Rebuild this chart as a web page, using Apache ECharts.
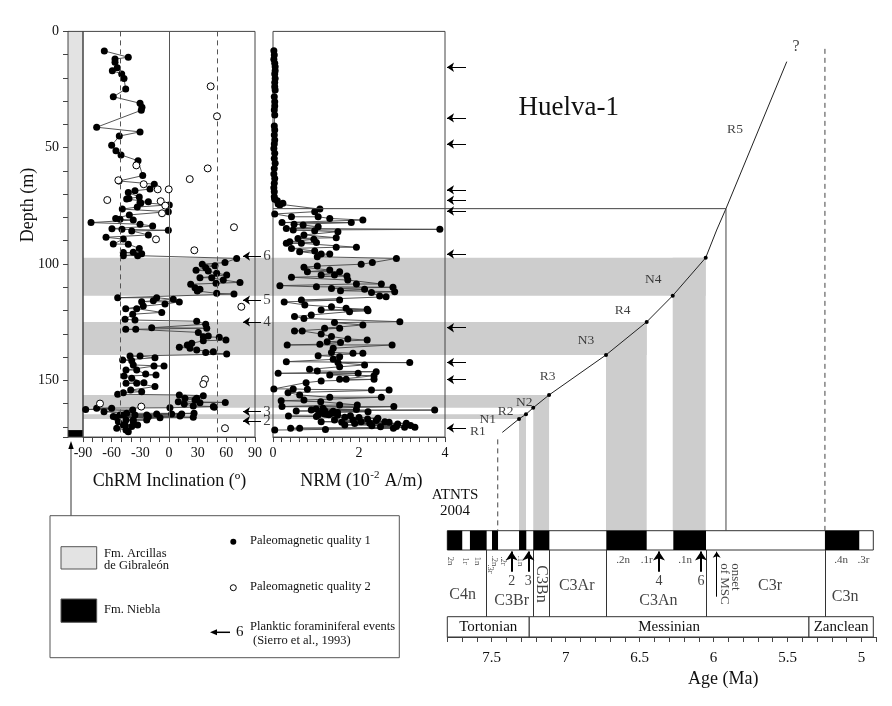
<!DOCTYPE html>
<html><head><meta charset="utf-8">
<script src="https://cdn.jsdelivr.net/npm/echarts@6/dist/echarts.min.js"></script>
<style>html,body{margin:0;padding:0;background:#fff}#c{width:892px;height:706px}</style>
</head><body><div id="c"></div><script>
// ---------------- DATA ----------------
// ChRM inclination (deg), depth (m) — quality 1 (filled, connected)
const incQ1 = [[-67.7,8.4],[-42.6,11.1],[-56.5,11.9],[-56.5,13.3],[-54.1,15.6],[-59.3,16.9],[-49.5,18.3],[-47.1,20.2],[-45.3,24.8],[-58.3,28.1],[-30.3,30.9],[-28.3,32.6],[-29.0,33.9],[-75.7,41.2],[-30.3,43.2],[-52.0,45.0],[-60.0,49.0],[-55.5,51.3],[-50.2,53.1],[-32.4,55.6],[-27.5,62.0],[-52.3,64.3],[-15.4,65.7],[-19.9,67.8],[-35.6,68.5],[-42.6,69.3],[-31.1,71.2],[-41.9,71.8],[-44.3,72.1],[-21.6,73.2],[-30.3,73.5],[-29.6,73.9],[0.3,74.6],[-33.2,75.5],[-48.9,76.4],[-0.7,77.5],[-41.5,78.9],[-55.8,80.4],[-51.3,80.8],[-37.4,81.1],[-81.6,82.2],[-30.3,82.9],[-17.1,83.7],[-59.7,84.8],[-49.2,85.1],[-0.7,85.5],[-39.0,85.8],[-21.6,87.5],[-65.9,88.5],[-47.8,89.3],[-58.3,91.4],[-42.6,91.5],[-31.1,93.3],[-37.4,95.0],[-47.8,95.1],[-28.6,95.6],[-47.8,96.4],[-32.8,96.4],
[70.8,97.6],[58.6,99.4],[34.8,100.1],[48.1,100.7],[38.4,101.6],[28.3,102.7],[41.1,103.0],[49.9,104.0],[60.4,104.7],[32.4,105.9],[44.7,105.9],[56.8,106.9],[74.3,107.9],[49.2,108.3],[22.7,108.7],[27.2,110.2],[32.4,110.9],[29.6,111.6],[49.9,112.6],[68.0,112.9],
[-53.7,114.5],[-12.9,114.5],[4.5,115.2],[-16.4,115.8],[-28.6,116.2],[10.8,116.3],[-4.2,117.2],[-26.9,118.1],[-45.3,119.2],[-33.8,119.2],[-7.6,120.8],[-38.0,121.6],[-46.0,123.8],[-35.6,124.1],[29.0,124.6],[38.4,125.9],[-18.1,127.4],[39.5,127.6],[-45.3,128.1],[-34.8,128.1],[30.7,129.4],[35.9,131.3],[41.1,131.0],[52.6,131.5],[59.6,132.7],[35.9,133.0],[23.8,134.1],[19.2,134.8],[10.8,135.8],[22.0,136.2],[29.0,137.0],[46.4,137.7],[38.4,138.0],[60.4,138.7],
[-40.8,139.6],[-30.3,139.6],[-14.7,140.3],[-48.5,141.3],[-39.0,141.6],[-37.4,143.4],[-5.2,143.9],[-15.7,143.9],[-45.0,145.6],[-33.8,145.6],[-24.4,147.3],[-13.6,147.7],[-47.1,148.2],[-39.0,149.1],[-26.2,151.0],[-45.0,151.3],[-33.8,151.3],[-14.7,152.7],[-40.1,154.2],[-28.6,154.9],[-47.8,155.3],[-53.7,156.0],
[10.8,156.3],[35.9,156.6],[16.7,157.7],[29.0,157.7],[27.2,158.5],[9.7,159.2],[58.9,159.5],[32.4,159.6],[16.0,160.2],[25.4,161.0],[46.4,161.3],[47.4,161.6],[1.0,161.8],
[-75.7,162.0],[-60.0,162.0],[-87.2,162.5],[-38.0,162.8],[-68.0,163.5],[-44.3,164.2],[26.2,164.2],[-12.9,164.5],[2.8,164.5],[13.3,164.5],[-51.3,164.9],[-35.6,164.9],[-23.3,164.9],[-47.8,164.9],[11.5,165.4],[-58.3,165.6],[-21.6,165.7],[25.4,165.9],[-55.5,165.9],[-9.4,166.1],[-45.0,167.1],[-23.3,167.1],[-37.4,167.1],[-37.4,167.8],[-53.0,167.8],[-47.8,169.2],[-32.8,169.2],[-46.0,169.2],[-39.0,169.9],[-54.7,170.6],[-45.0,171.4],[-42.6,172.1]];
// quality 2 (open circles)
const incQ2 = [[43.6,23.6],[50.2,36.5],[40.5,58.9],[-34.2,57.6],[21.7,63.5],[-53.0,64.0],[-26.5,65.7],[-11.8,67.9],[-0.3,67.9],[-64.6,72.5],[-8.7,73.0],[-3.9,74.9],[-7.3,78.2],[68.0,84.2],[-13.6,89.4],[26.5,94.1],[75.7,118.4],[37.7,149.6],[35.9,151.6],[-72.2,160.0],[-29.0,161.3],[58.6,170.6]];
// NRM (10^-2 A/m), depth (m)
const nrm = [[0.02,8.3],[0.03,10.1],[0.02,12.0],[0.04,13.7],[0.05,15.2],[0.05,16.9],[0.04,18.3],[0.05,20.2],[0.04,22.0],[0.04,23.8],[0.05,25.2],[0.03,28.1],[0.04,30.2],[0.04,32.1],[0.03,33.8],[0.04,35.9],[0.03,40.7],[0.04,42.4],[0.03,44.5],[0.04,46.7],[0.03,48.4],[0.02,50.3],[0.04,52.4],[0.03,54.6],[0.05,56.7],[0.03,58.9],[0.02,61.3],[0.04,63.2],[0.03,65.3],[0.02,67.2],[0.03,68.9],[0.03,71.1],[0.04,72.2],[0.10,72.8],[0.23,73.9],[0.12,74.2],[0.16,74.6],[1.09,76.4],[0.97,77.5],[0.04,78.5],[0.43,79.7],[1.05,79.7],[1.32,80.4],[2.09,81.1],[0.21,82.2],[1.82,82.2],[0.49,82.9],[0.70,83.2],[1.05,84.0],[0.31,84.7],[3.88,85.1],[0.47,85.4],[0.97,85.7],[1.51,86.1],[0.72,87.5],[1.47,88.7],[0.58,89.0],[0.95,89.4],[0.39,90.4],[1.01,90.8],[0.31,91.1],[0.66,91.1],[1.94,92.8],[1.47,92.8],[0.43,93.3],[0.97,94.4],[0.62,94.7],[1.12,95.7],[1.32,95.7],[1.03,96.9],[2.87,97.6],[2.31,99.4],[2.05,100.1],[1.03,100.9],[0.72,101.4],[1.32,102.6],[0.80,103.3],[1.55,103.3],[1.12,104.7],[1.43,104.7],[1.72,105.2],[0.43,105.7],[1.74,106.9],[2.52,108.6],[1.94,108.6],[0.16,109.3],[1.01,109.8],[2.79,110.0],[1.36,110.5],[2.13,110.9],[1.57,111.5],[2.83,111.9],[2.29,112.3],[2.48,113.8],[2.63,114.1],[0.66,115.5],[1.55,115.5],[0.26,116.3],[0.74,117.6],[1.36,118.4],[1.70,119.0],[2.19,119.5],[1.12,119.8],[2.21,120.1],[1.78,120.5],[0.89,121.9],[0.50,122.6],[0.72,123.4],[2.95,124.8],[1.43,125.2],[2.09,126.2],[1.20,127.6],[1.55,127.6],[0.50,128.8],[0.68,128.8],[1.12,130.1],[1.36,131.2],[1.74,132.2],[2.19,132.7],[1.26,133.4],[1.57,133.8],[1.09,134.5],[0.33,134.8],[2.77,134.8],[1.40,136.2],[1.36,138.0],[1.86,138.4],[2.09,138.4],[1.05,139.4],[1.55,139.9],[1.40,141.0],[0.31,142.0],[3.18,142.4],[1.51,142.4],[2.13,143.4],[1.55,144.2],[0.85,145.3],[1.03,146.0],[2.40,146.3],[0.12,147.0],[1.98,147.0],[1.32,147.7],[2.35,148.0],[1.55,149.6],[1.70,149.6],[2.35,149.6],[1.12,150.3],[0.77,151.0],[0.02,153.7],[0.47,153.7],[0.80,153.9],[2.29,154.2],[2.70,154.2],[0.35,155.3],[0.62,156.3],[1.32,157.3],[2.52,157.3],[0.72,158.5],[0.19,158.8],[1.11,159.2],[1.96,160.6],[1.55,160.6],[0.21,161.3],[2.81,161.3],[1.16,162.0],[1.00,162.3],[1.94,162.5],[0.89,162.8],[3.76,162.8],[1.20,163.0],[0.54,163.2],[1.40,163.3],[2.21,163.5],[1.50,163.8],[1.09,163.9],[1.36,164.2],[1.20,164.5],[1.25,164.6],[1.30,164.8],[1.05,164.9],[1.50,165.0],[1.80,165.2],[0.36,165.4],[1.01,165.6],[1.67,165.9],[2.00,166.0],[2.44,166.3],[2.20,166.6],[1.86,167.1],[1.43,167.1],[2.40,167.3],[2.05,167.8],[2.60,167.8],[1.12,167.8],[2.70,168.0],[1.60,168.0],[2.25,168.5],[3.10,168.5],[1.90,168.6],[2.90,168.8],[1.67,169.2],[3.20,169.4],[2.30,169.5],[2.87,169.9],[2.50,170.0],[3.30,170.2],[3.06,170.2],[0.41,170.6],[0.62,170.6],[2.80,170.6],[1.22,171.1],[0.04,171.4]];

// correlated polarity intervals: depth range (m) and age range (Ma, older→younger)
const bandDepths = [[97.3,113.6],[124.9,139.1],[156.3,161.8],[164.6,166.6]];
const bandAges   = [[6.276,6.053],[6.727,6.452],[7.219,7.112],[7.315,7.268]];
// age–depth curve
const curveAge   = [7.428,7.315,7.268,7.219,7.112,6.727,6.452,6.276,6.053,5.979,5.916,5.505];
const curveDepth = [172.4,166.6,164.6,161.8,156.3,139.1,124.9,113.6,97.3,85.4,76.2,13.0];
const curveTie   = [0,1,1,1,1,1,1,1,1,0,0,0];
const curveLabelText  = ['R1','N1','R2','N2','R3','N3','R4','N4','R5'];
const curveLabelAge   = [7.594,7.527,7.405,7.279,7.121,6.862,6.614,6.407,5.855];
const curveLabelDepth = [171.8,166.8,163.5,159.5,148.5,132.7,119.8,106.6,42.0];
// planktic foraminiferal events (arrow depths)
const eventDepths = [15.4,37.2,48.4,68.1,72.6,77.2,95.7,127.4,142.3,149.7,170.5];
const numberedEventLabels = ['6','5','4','3','2'];
const numberedEventDepths = [96.6,115.5,124.9,163.5,167.4];
// MSC correlation
const mscDepth = 76.2, mscAge = 5.916, mscOnsetAge = 5.979;
const dashedAges = [7.459, 5.247];
// lithology
const lithNames = ['Fm. Arcillas de Gibraleón','Fm. Niebla'];
const lithTop = [0,171.4], lithBottom = [171.4,174.4];
// ATNTS 2004 polarity (normal chrons, older→younger)
const normalChrons = [[7.8,7.699],[7.647,7.534],[7.498,7.457],[7.315,7.266],[7.219,7.110],[6.725,6.452],[6.272,6.051],[5.247,5.015]];
const chronBoundaries = [7.538,7.219,7.110,6.727,6.046,5.247];
const chronNames = ['C4n','C3Br','C3Bn','C3Ar','C3An','C3r','C3n'];
const chronAges  = [7.696,7.365,7.168,6.925,6.373,5.618,5.111];
const subChronNames = ['.2n','.1r','.1n','.4n','.3r'];
const subChronAges  = [6.612,6.452,6.193,5.137,4.987];
const smallSubNames = ['2n','1r','1n','.3r','.2n','.2r','.1n'];
const smallSubAges  = [7.782,7.680,7.600,7.512,7.484,7.423,7.308];
const polarityEventLabels = ['2','3','4','6'];
const polarityEventAges   = [7.365,7.252,6.369,6.085];
const stageNames = ['Tortonian','Messinian','Zanclean'];
const stageAges  = [[7.8,7.246],[7.246,5.355],[5.355,4.92]];
// tick labels
const depthTickLabels = [0,50,100,150];
const incTickLabels = [-90,-60,-30,0,30,60,90];
const nrmTickLabels = [0,2,4];
const ageTickLabels = [7.5,7,6.5,6,5.5,5];

// ---------------- LAYOUT ----------------
const FONT = '"Liberation Serif","Times New Roman",serif';
const TOP = 31.4, PXM = 2.326, DMAX = 174.4, PH = DMAX*PXM;
const LITH_L = 68, LITH_W = 15, INC_L = 83, INC_W = 172, NRM_L = 273, NRM_W = 172;
const AGE_L = 447.3, AGE_R = 873.3, AGE_OLD = 7.8, AGE_YOUNG = 4.92, AXIS_YOUNG = 4.9;
const PXA = (AGE_R-AGE_L)/(AGE_OLD-AGE_YOUNG);
const BAR_TOP = 530.7, PB_H = 106.3;
const OV_DMAX = (BAR_TOP-TOP)/PXM;
const OV_AMAX = AGE_OLD + (AGE_L-INC_L)/PXA;
const ageAtPx = px => AGE_OLD - (px-AGE_L)/PXA;
const BAR_H = 19.3, DIV_B = 86;
const GRAY = '#cdcdcd', LINE = '#333';
const lithColors = ['#e3e3e3','#000'];
const byDepth = a => a.slice().sort((p,q)=>p[1]-q[1]);
const near = (v, arr) => arr.some(t=>Math.abs(t-v)<1e-6);
const txt = (sz)=>({fontFamily:FONT,fontSize:sz,color:'#111'});
const labelPts = (xi, names, xs, ys, extra) => ({
  type:'scatter', xAxisIndex:xi, yAxisIndex:xi, symbolSize:1, z:8, silent:true,
  itemStyle:{color:'rgba(0,0,0,0)'},
  label:Object.assign({show:true, position:'inside', formatter:p=>p.name, fontFamily:FONT, fontSize:14, color:'#111'}, extra||{}),
  data: names.map((n,i)=>({name:n, value:[xs[i], Array.isArray(ys)?ys[i]:ys]}))
});

const chart = echarts.init(document.getElementById('c'), null, {renderer:'canvas'});
const series = [];
series.push({type:'scatter', xAxisIndex:0, yAxisIndex:0, data:[], z:1,
  markArea:{silent:true, data: lithNames.map((n,i)=>[{xAxis:0,yAxis:lithTop[i],itemStyle:{color:lithColors[i],opacity:1}},{xAxis:1,yAxis:lithBottom[i]}])}});
const bandAreas = [];
bandDepths.forEach((d,i)=>{
  bandAreas.push([{xAxis:OV_AMAX,yAxis:d[0]},{xAxis:bandAges[i][1],yAxis:d[1]}]);
  bandAreas.push([{xAxis:bandAges[i][0],yAxis:d[0]},{xAxis:bandAges[i][1],yAxis:OV_DMAX}]);
});
series.push({type:'scatter', xAxisIndex:3, yAxisIndex:3, data:[], z:1,
  markArea:{silent:true, itemStyle:{color:GRAY, opacity:1, borderWidth:0}, data:bandAreas}});
series.push({type:'scatter', xAxisIndex:1, yAxisIndex:1, data:[], z:3,
  markLine:{silent:true, symbol:'none', label:{show:false}, lineStyle:{color:'#555',width:1},
    data:[{xAxis:0,lineStyle:{type:'solid'}},{xAxis:-51,lineStyle:{type:[5,4]}},{xAxis:51,lineStyle:{type:[5,4]}}]}});
series.push({type:'line', xAxisIndex:1, yAxisIndex:1, data:byDepth(incQ1), symbol:'circle', symbolSize:7, showAllSymbol:true,
  itemStyle:{color:'#000'}, lineStyle:{color:'#444',width:0.9}, z:4, clip:false});
series.push({type:'scatter', xAxisIndex:1, yAxisIndex:1, data:incQ2, symbol:'circle', symbolSize:7,
  itemStyle:{color:'#fff',borderColor:'#000',borderWidth:1,opacity:1}, z:5, clip:false});
series.push({type:'line', xAxisIndex:2, yAxisIndex:2, data:byDepth(nrm), symbol:'circle', symbolSize:7, showAllSymbol:true,
  itemStyle:{color:'#000'}, lineStyle:{color:'#444',width:0.9}, z:4, clip:false});
series.push({type:'line', xAxisIndex:3, yAxisIndex:3, z:6, clip:false,
  data: curveAge.map((a,i)=>({value:[a,curveDepth[i]], symbol: curveTie[i]?'circle':'none'})),
  symbolSize:4, showAllSymbol:true, itemStyle:{color:'#000'}, lineStyle:{color:'#222',width:1}});
series.push({type:'line', xAxisIndex:3, yAxisIndex:3, z:6, symbol:'none', clip:false,
  data:[[ageAtPx(NRM_L),mscDepth],[mscAge,mscDepth],[mscAge,OV_DMAX]], lineStyle:{color:'#444',width:1}});
series.push({type:'line', xAxisIndex:3, yAxisIndex:3, z:6, symbol:'none',
  data:[[dashedAges[0],175.4],[dashedAges[0],OV_DMAX]], lineStyle:{color:'#444',width:1,type:[5,4]}});
series.push({type:'line', xAxisIndex:3, yAxisIndex:3, z:6, symbol:'none',
  data:[[dashedAges[1],7.5],[dashedAges[1],OV_DMAX]], lineStyle:{color:'#444',width:1,type:[5,4]}});
series.push({type:'lines', coordinateSystem:'cartesian2d', xAxisIndex:3, yAxisIndex:3, z:7, silent:true,
  symbol:['none','arrow'], symbolSize:[0,7], lineStyle:{color:'#000',width:1,opacity:1},
  data: eventDepths.map(d=>({coords:[[ageAtPx(466),d],[ageAtPx(447),d]]}))});
series.push({type:'lines', coordinateSystem:'cartesian2d', xAxisIndex:3, yAxisIndex:3, z:7, silent:true,
  symbol:['none','arrow'], symbolSize:[0,7], lineStyle:{color:'#000',width:1,opacity:1},
  data: numberedEventDepths.map(d=>({coords:[[ageAtPx(261),d],[ageAtPx(243),d]]}))});
series.push(labelPts(3, numberedEventLabels, numberedEventLabels.map(()=>ageAtPx(267)), numberedEventDepths, {fontSize:15}));
series.push(labelPts(3, curveLabelText, curveLabelAge, curveLabelDepth, {fontSize:13.5}));
series.push(labelPts(3, ['?'], [ageAtPx(796)], [6.6], {fontSize:16}));
series.push({type:'scatter', xAxisIndex:4, yAxisIndex:4, data:[], z:3,
  markArea:{silent:true, data:[
    [{xAxis:AGE_OLD,yAxis:0,itemStyle:{color:'#fff',borderColor:LINE,borderWidth:1,opacity:1}},{xAxis:AGE_YOUNG,yAxis:BAR_H}],
    ...normalChrons.map(c=>[{xAxis:c[0],yAxis:0,itemStyle:{color:'#000',opacity:1}},{xAxis:c[1],yAxis:BAR_H}])]}});
series.push({type:'scatter', xAxisIndex:4, yAxisIndex:4, data:[], z:2,
  markArea:{silent:true, data: stageNames.map((s,i)=>[{name:s,xAxis:stageAges[i][0],yAxis:DIV_B,
     itemStyle:{color:'#fff',borderColor:LINE,borderWidth:1,opacity:1}},{xAxis:stageAges[i][1],yAxis:PB_H}]),
    label:{show:true,position:'inside',fontFamily:FONT,fontSize:15,color:'#111'}}});
series.push({type:'lines', coordinateSystem:'cartesian2d', xAxisIndex:4, yAxisIndex:4, z:4, silent:true,
  symbol:'none', lineStyle:{color:LINE,width:1,opacity:1},
  data: chronBoundaries.map(a=>({coords:[[a,BAR_H],[a,DIV_B]]}))});
series.push({type:'lines', coordinateSystem:'cartesian2d', xAxisIndex:4, yAxisIndex:4, z:5, silent:true,
  symbol:['none','arrow'], symbolSize:[0,9], lineStyle:{color:'#000',width:2,opacity:1},
  data: polarityEventAges.map(a=>({coords:[[a,41],[a,20.8]]}))});
series.push({type:'lines', coordinateSystem:'cartesian2d', xAxisIndex:4, yAxisIndex:4, z:5, silent:true,
  symbol:['none','arrow'], symbolSize:[0,6], lineStyle:{color:'#000',width:1,opacity:1},
  data: [{coords:[[mscOnsetAge,66],[mscOnsetAge,21]]}]});
series.push(labelPts(4, polarityEventLabels, polarityEventAges, 50.5, {fontSize:14}));
series.push(labelPts(4, chronNames, chronAges, [64.3,70,53.3,55.3,70,55.3,66], {fontSize:16}));
series[series.length-1].data[2].label = {rotate:-90};
series.push(labelPts(4, subChronNames, subChronAges, 29.3, {fontSize:11}));
series.push(labelPts(4, smallSubNames, smallSubAges, [30.3,30.3,30.3,38.3,30.3,30.3,30.3], {fontSize:8.5, rotate:-90}));
series.push(labelPts(4, ['onset\nof MSC'], [ageAtPx(730)], 32.5, {fontSize:13, rotate:-90, align:'left', verticalAlign:'middle', lineHeight:11}));

// NRM axis title with superscript, laid out by measured widths
const mctx = document.createElement('canvas').getContext('2d');
const tw = (s,f)=>{mctx.font=f; return mctx.measureText(s).width;};
const F18 = '18px '+FONT, F11 = '11px '+FONT;
const nw1 = tw('NRM (10',F18), nw2 = tw('-2',F11), nw3 = tw(' A/m)',F18);
const nx0 = 360.8 - (nw1+nw2+nw3)/2;

const tickStyle = {show:true,length:5,inside:false,lineStyle:{color:'#444',width:1}};
const option = {
  animation:false, backgroundColor:'#fff',
  grid:[
    {left:LITH_L, top:TOP, width:LITH_W, height:PH, show:true, borderColor:'#444', borderWidth:1, backgroundColor:'rgba(0,0,0,0)', z:2},
    {left:INC_L, top:TOP, width:INC_W, height:PH, show:true, borderColor:'#444', borderWidth:1, backgroundColor:'rgba(0,0,0,0)', z:2},
    {left:NRM_L, top:TOP, width:NRM_W, height:PH, show:true, borderColor:'#444', borderWidth:1, backgroundColor:'rgba(0,0,0,0)', z:2},
    {left:INC_L, top:TOP, width:AGE_R-INC_L, height:BAR_TOP-TOP, show:false},
    {left:AGE_L, top:BAR_TOP, width:(AGE_OLD-AXIS_YOUNG)*PXA, height:PB_H, show:false}
  ],
  xAxis:[
    {gridIndex:0, type:'value', min:0, max:1, show:false},
    {gridIndex:1, type:'value', min:-90, max:90, interval:10, position:'bottom',
      axisLine:{show:true,onZero:false,lineStyle:{color:'#444'}},
      axisTick:tickStyle, splitLine:{show:false},
      axisLabel:Object.assign(txt(14),{margin:9, formatter:v=>near(v,incTickLabels)?String(Math.round(v)):''})},
    {gridIndex:2, type:'value', min:0, max:4, interval:0.2, position:'bottom',
      axisLine:{show:true,onZero:false,lineStyle:{color:'#444'}},
      axisTick:tickStyle, splitLine:{show:false},
      axisLabel:Object.assign(txt(14),{margin:9, formatter:v=>near(v,nrmTickLabels)?String(Math.round(v)):''})},
    {gridIndex:3, type:'value', min:AGE_YOUNG, max:OV_AMAX, inverse:true, show:false},
    {gridIndex:4, type:'value', min:AXIS_YOUNG, max:AGE_OLD, interval:0.1, inverse:true, position:'bottom',
      axisLine:{show:true,onZero:false,lineStyle:{color:'#444'}}, splitLine:{show:false},
      axisTick:tickStyle,
      axisLabel:Object.assign(txt(15),{margin:14, showMinLabel:true, showMaxLabel:true,
        formatter:v=>near(v,ageTickLabels)?String(+v.toFixed(1)):''})}
  ],
  yAxis:[
    {gridIndex:0, type:'value', min:0, max:DMAX, interval:10, inverse:true, position:'left',
      axisLine:{show:true,onZero:false,lineStyle:{color:'#444'}}, splitLine:{show:false},
      axisTick:tickStyle,
      axisLabel:Object.assign(txt(14),{margin:9, formatter:v=>near(v,depthTickLabels)?String(Math.round(v)):''})},
    {gridIndex:1, type:'value', min:0, max:DMAX, inverse:true, show:false},
    {gridIndex:2, type:'value', min:0, max:DMAX, inverse:true, show:false},
    {gridIndex:3, type:'value', min:0, max:OV_DMAX, inverse:true, show:false},
    {gridIndex:4, type:'value', min:0, max:PB_H, inverse:true, show:false}
  ],
  series: series,
  graphic:[
    {type:'text', x:568.7, y:108, style:{text:'Huelva-1', font:'27px '+FONT, fill:'#111', textAlign:'center', textVerticalAlign:'middle'}},
    {type:'text', x:28, y:205, rotation:Math.PI/2, style:{text:'Depth (m)', font:'18px '+FONT, fill:'#111', textAlign:'center', textVerticalAlign:'middle'}},
    {type:'text', x:169.5, y:481.7, style:{text:'ChRM Inclination (º)', font:'18px '+FONT, fill:'#111', textAlign:'center', textVerticalAlign:'middle'}},
    {type:'text', x:nx0, y:481.7, style:{text:'NRM (10', font:F18, fill:'#111', textAlign:'left', textVerticalAlign:'middle'}},
    {type:'text', x:nx0+nw1+0.5, y:475, style:{text:'-2', font:F11, fill:'#111', textAlign:'left', textVerticalAlign:'middle'}},
    {type:'text', x:nx0+nw1+nw2+1, y:481.7, style:{text:' A/m)', font:F18, fill:'#111', textAlign:'left', textVerticalAlign:'middle'}},
    {type:'text', x:723.3, y:679, style:{text:'Age (Ma)', font:'18px '+FONT, fill:'#111', textAlign:'center', textVerticalAlign:'middle'}},
    {type:'text', x:455, y:495, style:{text:'ATNTS', font:'15px '+FONT, fill:'#111', textAlign:'center', textVerticalAlign:'middle'}},
    {type:'text', x:455, y:510.7, style:{text:'2004', font:'15px '+FONT, fill:'#111', textAlign:'center', textVerticalAlign:'middle'}},
    {type:'line', shape:{x1:71,y1:528,x2:71,y2:447}, style:{stroke:'#333',lineWidth:1}},
    {type:'polygon', shape:{points:[[71,441],[68.3,449],[73.7,449]]}, style:{fill:'#000'}},
    {type:'rect', shape:{x:50,y:515.7,width:349.3,height:142}, style:{fill:'#fff',stroke:'#555',lineWidth:1}},
    {type:'rect', shape:{x:61,y:546.7,width:35.7,height:22.3}, style:{fill:lithColors[0],stroke:'#555',lineWidth:1}},
    {type:'rect', shape:{x:61,y:599,width:35.7,height:23.3}, style:{fill:lithColors[1],stroke:'#555',lineWidth:1}},
    {type:'text', x:104, y:553.3, style:{text:'Fm. Arcillas', font:'12.5px '+FONT, fill:'#111', textVerticalAlign:'middle'}},
    {type:'text', x:104, y:565.5, style:{text:'de Gibraleón', font:'12.5px '+FONT, fill:'#111', textVerticalAlign:'middle'}},
    {type:'text', x:104, y:610, style:{text:'Fm. Niebla', font:'12.5px '+FONT, fill:'#111', textVerticalAlign:'middle'}},
    {type:'circle', shape:{cx:233.3,cy:541.7,r:3}, style:{fill:'#000'}},
    {type:'text', x:250, y:541, style:{text:'Paleomagnetic quality 1', font:'12.5px '+FONT, fill:'#111', textVerticalAlign:'middle'}},
    {type:'circle', shape:{cx:233.3,cy:587.7,r:3}, style:{fill:'#fff',stroke:'#000',lineWidth:1}},
    {type:'text', x:250, y:587, style:{text:'Paleomagnetic quality 2', font:'12.5px '+FONT, fill:'#111', textVerticalAlign:'middle'}},
    {type:'line', shape:{x1:230,y1:632.3,x2:215,y2:632.3}, style:{stroke:'#000',lineWidth:1.5}},
    {type:'polygon', shape:{points:[[210,632.3],[217,629.3],[217,635.3]]}, style:{fill:'#000'}},
    {type:'text', x:236, y:632.3, style:{text:'6', font:'15px '+FONT, fill:'#111', textVerticalAlign:'middle'}},
    {type:'text', x:250, y:626.7, style:{text:'Planktic foraminiferal events', font:'12.5px '+FONT, fill:'#111', textVerticalAlign:'middle'}},
    {type:'text', x:253, y:640.7, style:{text:'(Sierro et al., 1993)', font:'12.5px '+FONT, fill:'#111', textVerticalAlign:'middle'}}
  ]
};
chart.setOption(option);
</script></body></html>
